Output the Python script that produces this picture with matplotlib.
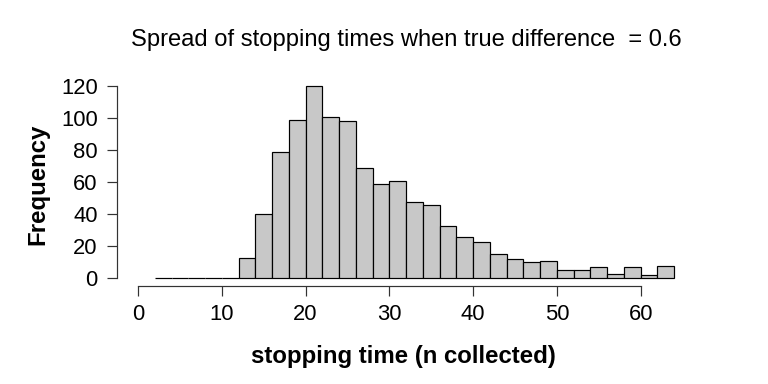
import numpy as np
import matplotlib
matplotlib.use("Agg")
import matplotlib.pyplot as plt

plt.rcParams['font.family'] = ['Liberation Sans', 'DejaVu Sans']

# histogram of stopping times, bins of width 2 from 2 to 64
bin_edges = np.arange(2, 66, 2)
counts = [0, 0, 0, 0, 0,
          13, 40, 79, 99, 120, 101, 98, 69, 59, 61, 48, 46, 33,
          26, 23, 15, 12, 10, 11, 5, 5, 7, 3, 7, 2, 8]
x_ticks = [0, 10, 20, 30, 40, 50, 60]
y_ticks = [0, 20, 40, 60, 80, 100, 120]

W, H = 768, 384
fig = plt.figure(figsize=(W / 96, H / 96), dpi=96)
ax = fig.add_axes([134 / W, 1 - 286 / H, (695 - 134) / W, (286 - 78.6) / H])

ax.bar(bin_edges[:-1], counts, width=2, align='edge',
       color='#c8c8c8', edgecolor='black', linewidth=0.9)

ax.set_xlim(-0.48, 66.48)
ax.set_ylim(-4.8, 124.8)

for s in ['top', 'right']:
    ax.spines[s].set_visible(False)
ax.spines['left'].set_position(('outward', 12.75))
ax.spines['left'].set_bounds(0, 120)
ax.spines['bottom'].set_bounds(0, 60)
for s in ['left', 'bottom']:
    ax.spines[s].set_linewidth(0.9)
    ax.spines[s].set_color('#333333')

ax.set_xticks(x_ticks)
ax.set_yticks(y_ticks)
ax.tick_params(axis='both', length=7.5, width=0.9, color='#333333',
               labelsize=16.5)
ax.tick_params(axis='y', pad=7)
ax.tick_params(axis='x', pad=6)

fig.text(406 / W, 1 - 40 / H, 'Spread of stopping times when true difference  = 0.6',
         ha='center', va='center', fontsize=17.8)
fig.text(403 / W, 1 - 357 / H, 'stopping time (n collected)',
         ha='center', va='center', fontsize=18, fontweight='bold')
fig.text(38 / W, 1 - 184 / H, 'Frequency', rotation=90,
         ha='center', va='center', fontsize=18, fontweight='bold')

fig.savefig('out.png', dpi=96)
